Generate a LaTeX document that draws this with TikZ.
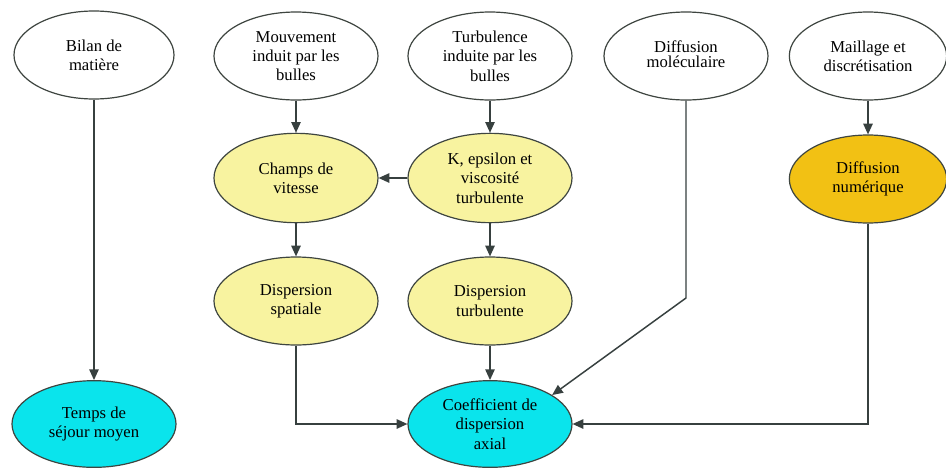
\documentclass[tikz,border=0pt]{standalone}
\usepackage{fontspec}
\setmainfont{Liberation Serif}
\newfontfamily\diagfont{Liberation Serif}
\usetikzlibrary{shapes.geometric,arrows.meta}
\definecolor{outl}{HTML}{3E4540}
\definecolor{linec}{HTML}{37403F}
\definecolor{yfill}{HTML}{F8F3A0}
\definecolor{ofill}{HTML}{F2C114}
\definecolor{cfill}{HTML}{0AE4EC}
\tikzset{
  bub/.style={ellipse, draw=outl, line width=0.9pt, inner sep=0pt,
    minimum width=123pt, minimum height=66pt, align=center,
    font=\diagfont\fontsize{12.5}{14.5}\selectfont},
  wbub/.style={bub, fill=white},
  ybub/.style={bub, fill=yfill},
  obub/.style={bub, fill=ofill, minimum width=118pt},
  cbub/.style={bub, fill=cfill, minimum height=65pt},
  conn/.style={draw=linec, line width=1.1pt, -{Triangle[length=8pt,width=7pt]}},
}
\begin{document}
\begin{tikzpicture}[x=0.75pt,y=-0.75pt]
\useasboundingbox[fill=white] (0,0) rectangle (946,468);
% row 1
\node[wbub, minimum width=120pt] (bilan) at (94,55) {Bilan de\\matière};
\node[wbub] (mouv) at (296,56) {Mouvement\\induit par les\\bulles};
\node[wbub] (turb) at (490,56) {Turbulence\\induite par les\\bulles};
\node[wbub] (mol) at (686,56) {\raisebox{4pt}{\begin{tabular}{@{}c@{}}Diffusion\\[-3pt]moléculaire\end{tabular}}};
\node[wbub, minimum width=118pt] (mail) at (868,56) {Maillage et\\discrétisation};
% row 2
\node[ybub, minimum height=67pt] (champs) at (296,178) {Champs de\\vitesse};
\node[ybub, minimum height=67pt] (keps) at (490,178) {K, epsilon et\\viscosité\\turbulente};
\node[obub] (num) at (868,179) {Diffusion\\numérique};
% row 3
\node[ybub] (dspat) at (296,301) {Dispersion\\spatiale};
\node[ybub] (dturb) at (490,301) {Dispersion\\turbulente};
% row 4
\node[cbub] (temps) at (94,424) {Temps de\\séjour moyen};
\node[cbub] (coef) at (490,424) {Coefficient de\\dispersion\\axial};
% connectors
\coordinate (molbend) at (686,298);
\draw[conn] (bilan) -- (temps);
\draw[conn] (mouv) -- (champs);
\draw[conn] (turb) -- (keps);
\draw[conn] (mail) -- (num);
\draw[conn] (keps) -- (champs);
\draw[conn] (champs) -- (dspat);
\draw[conn] (keps) -- (dturb);
\draw[conn] (dturb) -- (coef);
\draw[conn] (dspat.south) |- (coef.west);
\draw[conn] (num.south) |- (coef.east);
\draw[conn] (mol.south) -- (molbend) -- (coef.25);
\end{tikzpicture}
\end{document}
